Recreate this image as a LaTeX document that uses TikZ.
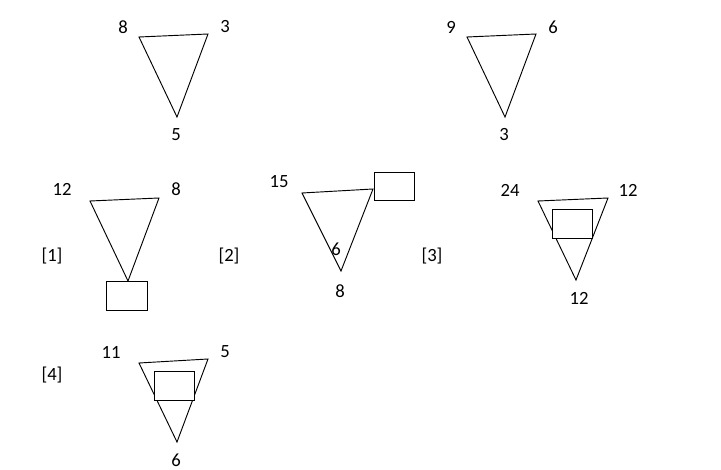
\documentclass[tikz,border=0pt]{standalone}
\usepackage{fontspec}
\setmainfont{Carlito}
\begin{document}
\begin{tikzpicture}[x=0.75pt,y=-0.75pt,
  tri/.style={draw=black,line width=0.7pt,line join=miter},
  box/.style={draw=black,line width=0.6pt,fill=white},
  lbl/.style={font=\fontsize{14}{16}\selectfont,inner sep=0pt}]
\useasboundingbox (0,0) rectangle (721,470);
% top-left
\coordinate (a1) at (139,37); \coordinate (a2) at (208,34); \coordinate (a3) at (177,117);
\draw[tri] (a1) -- (a2) -- (a3) -- cycle;
\node[lbl] (la1) at (123,27) {8};
\node[lbl] (la2) at (225,27) {3};
\node[lbl] (la3) at (176,135) {5};
% top-right
\coordinate (b1) at (467,37); \coordinate (b2) at (536,34); \coordinate (b3) at (505,117);
\draw[tri] (b1) -- (b2) -- (b3) -- cycle;
\node[lbl] (lb1) at (451,27) {9};
\node[lbl] (lb2) at (553,27) {6};
\node[lbl] (lb3) at (504,135) {3};
% [1]
\coordinate (c1) at (90,201); \coordinate (c2) at (159,198); \coordinate (c3) at (128,281);
\draw[tri] (c1) -- (c2) -- (c3) -- cycle;
\draw[box] (106,281) rectangle (147,310);
\node[lbl] (lc1) at (62,189) {12};
\node[lbl] (lc2) at (176,189) {8};
\node[lbl] (n1) at (52,256) {[1]};
% [2]
\coordinate (d1) at (302,193); \coordinate (d2) at (373,189); \coordinate (d3) at (341,271);
\draw[tri] (d1) -- (d2) -- (d3) -- cycle;
\draw[box] (374,172) rectangle (414,200);
\node[lbl] (ld1) at (279,182) {15};
\node[lbl] (ld2) at (336,249) {6};
\node[lbl] (ld3) at (340,291) {8};
\node[lbl] (n2) at (229,256) {[2]};
\node[lbl] (n3) at (432,256) {[3]};
% [3]
\coordinate (e1) at (538,201); \coordinate (e2) at (608,198); \coordinate (e3) at (576,280);
\draw[tri] (e1) -- (e2) -- (e3) -- cycle;
\draw[box] (552,209) rectangle (592,238);
\node[lbl] (le1) at (510,190) {24};
\node[lbl] (le2) at (628,190) {12};
\node[lbl] (le3) at (579,298) {12};
% [4]
\coordinate (f1) at (139,363); \coordinate (f2) at (208,359); \coordinate (f3) at (177,442);
\draw[tri] (f1) -- (f2) -- (f3) -- cycle;
\draw[box] (154,371) rectangle (194,400);
\node[lbl] (lf1) at (111,352) {11};
\node[lbl] (lf2) at (225,352) {5};
\node[lbl] (lf3) at (176,460) {6};
\node[lbl] (n4) at (52,375) {[4]};
\end{tikzpicture}
\end{document}
